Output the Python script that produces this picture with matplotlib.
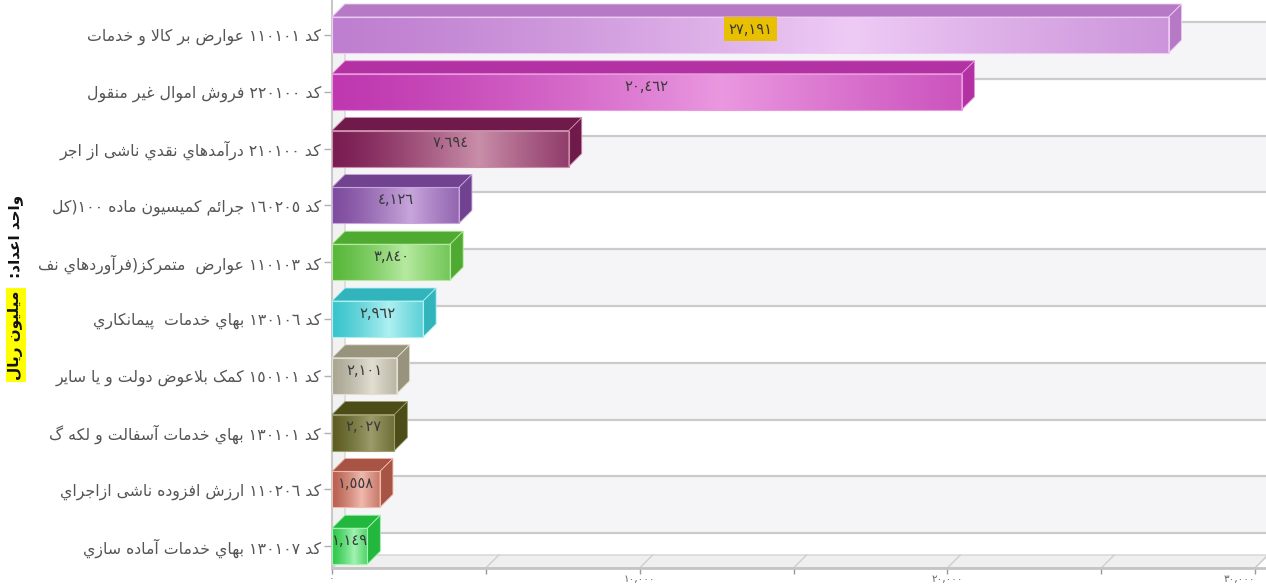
import matplotlib
matplotlib.use("Agg")
import matplotlib.pyplot as plt
import numpy as np
from matplotlib.patches import Polygon
from matplotlib.colors import to_rgb

# data
codes = ['110101', '220100', '210100', '160205', '110103',
         '130106', '150101', '130101', '110206', '130107']
names = ['عوارض بر کالا و خدمات',
         'فروش اموال غیر منقول',
         'درآمدهاي نقدي ناشی از اجر',
         'جرائم کمیسیون ماده 100(کل',
         'عوارض  متمرکز(فرآوردهاي نف',
         'بهاي خدمات  پیمانکاري',
         'کمک بلاعوض دولت و یا سایر',
         'بهاي خدمات آسفالت و لکه گ',
         'ارزش افزوده ناشی ازاجراي',
         'بهاي خدمات آماده سازي']
values = [27191, 20462, 7694, 4126, 3840, 2962, 2101, 2027, 1558, 1149]
xticks = [0, 5000, 10000, 15000, 20000, 25000, 30000]
xlabels = ['0', '', '10,000', '', '20,000', '', '30,000']
ytitle_a = 'واحد اعداد:'
ytitle_b = 'میلیون ریال'

# edge colour, highlight colour, top/side colour
edge_cols = ['#bf7fd0', '#bf38b0', '#7a1c52', '#7e4c9e', '#58b83a',
             '#3ac4cc', '#aaa693', '#5c5c22', '#b8604f', '#2ec84a']
light_cols = ['#eecbf5', '#ea98e0', '#c98ea9', '#c8a6dc', '#b6eaa0',
              '#aef0f2', '#e2dfd2', '#9c9c6c', '#f0baae', '#a2f2b2']
top_cols = ['#b679c6', '#b232a3', '#6f1a4b', '#704290', '#4eaa30',
            '#32b4bc', '#97937d', '#4c4c18', '#a85444', '#22b83e']

# --- minimal arabic shaping / visual ordering ---
F = {
    'ا': '\ufe8d\ufe8e', 'آ': '\ufe81\ufe82', 'د': '\ufea9\ufeaa',
    'ر': '\ufead\ufeae', 'ز': '\ufeaf\ufeb0', 'و': '\ufeed\ufeee',
    'ئ': '\ufe89\ufe8a\ufe8b\ufe8c', 'ب': '\ufe8f\ufe90\ufe91\ufe92',
    'ت': '\ufe95\ufe96\ufe97\ufe98', 'ج': '\ufe9d\ufe9e\ufe9f\ufea0',
    'ح': '\ufea1\ufea2\ufea3\ufea4', 'خ': '\ufea5\ufea6\ufea7\ufea8',
    'س': '\ufeb1\ufeb2\ufeb3\ufeb4', 'ش': '\ufeb5\ufeb6\ufeb7\ufeb8',
    'ض': '\ufebd\ufebe\ufebf\ufec0', 'ع': '\ufec9\ufeca\ufecb\ufecc',
    'غ': '\ufecd\ufece\ufecf\ufed0', 'ف': '\ufed1\ufed2\ufed3\ufed4',
    'ق': '\ufed5\ufed6\ufed7\ufed8', 'ل': '\ufedd\ufede\ufedf\ufee0',
    'م': '\ufee1\ufee2\ufee3\ufee4', 'ن': '\ufee5\ufee6\ufee7\ufee8',
    'ه': '\ufee9\ufeea\ufeeb\ufeec', 'ي': '\ufef1\ufef2\ufef3\ufef4',
    'پ': '\ufb56\ufb57\ufb58\ufb59', 'ک': '\ufb8e\ufb8f\ufb90\ufb91',
    'گ': '\ufb92\ufb93\ufb94\ufb95', 'ی': '\ufbfc\ufbfd\ufbfe\ufbff',
}
LA = {'ا': '\ufefb\ufefc', 'آ': '\ufef5\ufef6'}
DIGITS = str.maketrans('0123456789', '٠١٢٣٤٥٦٧٨٩')
MIRROR = {'(': ')', ')': '('}


def forms(u):
    if u is None:
        return None
    if isinstance(u, tuple):
        return LA[u[1]]
    return F.get(u)


def shape(s):
    units = []
    i = 0
    while i < len(s):
        if s[i] == 'ل' and i + 1 < len(s) and s[i + 1] in LA:
            units.append(('L', s[i + 1]))
            i += 2
        else:
            units.append(s[i])
            i += 1
    out = []
    for k, u in enumerate(units):
        f = forms(u)
        if f is None:
            out.append(u)
            continue
        pf = forms(units[k - 1]) if k > 0 else None
        nf = forms(units[k + 1]) if k + 1 < len(units) else None
        jp = pf is not None and len(pf) == 4
        jn = len(f) == 4 and nf is not None
        if jp and jn:
            out.append(f[3])
        elif jp:
            out.append(f[1])
        elif jn:
            out.append(f[2])
        else:
            out.append(f[0])
    return ''.join(out)


def fa(s):
    s = shape(s.translate(DIGITS))
    units, buf = [], ''
    for i, c in enumerate(s):
        if c in '٠١٢٣٤٥٦٧٨٩' or (c == ',' and buf and i + 1 < len(s)):
            buf += c
        else:
            if buf:
                units.append(buf)
                buf = ''
            units.append(MIRROR.get(c, c))
    if buf:
        units.append(buf)
    return ''.join(reversed(units))


W, H = 1266, 585
fig = plt.figure(figsize=(W / 100, H / 100), dpi=100)
fig.patch.set_facecolor('white')

# axes: x 0 at px 332, 30000 at px 1255; rows 56.8 px apart, first at 35 px
x0_px, x30_px, right_px = 332, 1255, 1266
row_px, row0_px, floor_px = 56.8, 35, 568
xmax = 30000 * (right_px - x0_px) / (x30_px - x0_px)
ax = fig.add_axes([x0_px / W, (H - floor_px) / H, (right_px - x0_px) / W, floor_px / H])
ytop = -row0_px / row_px
ybot = (floor_px - row0_px) / row_px

px_x = xmax / (right_px - x0_px)
DX = 13 * px_x
DY = 13 / row_px
HH = 18 / row_px
n = len(values)

# back wall bands and grid lines
for i in range(n):
    y1 = i - DY
    y2 = (i + 1 - DY) if i < n - 1 else ybot - DY
    if i % 2 == 0:
        ax.fill_between([DX, xmax + DX], y1, y2, color='#f5f5f8', lw=0, zorder=0)
    ax.plot([DX, xmax + DX], [y1, y1], color='#cbcbcb', lw=1.6, zorder=1,
            solid_capstyle='butt', clip_on=False)

# left wall
ax.add_patch(Polygon([(0, ybot), (DX, ybot - DY), (DX, ytop + 0.07), (0, ytop + 0.3)],
                     closed=True, fc='#f2f2f2', ec='#d6d6d6', lw=1, zorder=1, clip_on=False))

# floor
ax.add_patch(Polygon([(0, ybot), (30000, ybot), (30000 + DX, ybot - DY), (DX, ybot - DY)],
                     closed=True, fc='#efefef', ec='#d4d4d4', lw=1, zorder=1, clip_on=False))
for t in xticks:
    ax.plot([t, t + DX], [ybot, ybot - DY], color='#cfcfcf', lw=1, zorder=1, clip_on=False)

# bars
t = np.linspace(0, 1, 256)
w = np.clip(1 - np.abs(t - 0.62) / 0.62, 0, 1) ** 1.3
for i, v in enumerate(values):
    e = np.array(to_rgb(edge_cols[i]))
    l = np.array(to_rgb(light_cols[i]))
    grad = e[None, :] * (1 - w[:, None]) + l[None, :] * w[:, None]
    ax.imshow(grad[None, :, :], extent=[0, v, i + HH, i - HH], aspect='auto',
              zorder=3, interpolation='bilinear')
    ax.add_patch(Polygon([(0, i - HH), (v, i - HH), (v + DX, i - HH - DY), (DX, i - HH - DY)],
                         closed=True, fc=top_cols[i], ec=light_cols[i], lw=0.6, zorder=3))
    ax.add_patch(Polygon([(v, i - HH), (v + DX, i - HH - DY), (v + DX, i + HH - DY), (v, i + HH)],
                         closed=True, fc=top_cols[i], ec=light_cols[i], lw=0.6, zorder=3))
    ax.add_patch(Polygon([(0, i - HH), (v, i - HH), (v, i + HH), (0, i + HH)],
                         closed=True, fc='none', ec=light_cols[i], lw=0.8, zorder=4))
    lab = fa(f'{v:,}')
    kw = dict(ha='center', va='center', fontsize=10.5, color='#3a3a3a', zorder=5)
    if i == 0:
        kw['bbox'] = dict(boxstyle='square,pad=0.3', fc='#e8c000', ec='none')
    ax.text(v / 2, i - 0.1, lab, **kw)

ax.set_xlim(0, xmax)
ax.set_ylim(ybot, ytop)
ax.set_yticks(range(n))
ax.set_yticklabels([fa('کد ' + c + ' ' + nm) for c, nm in zip(codes, names)],
                   fontsize=11.3, color='#555555')
ax.set_xticks(xticks)
ax.set_xticklabels([fa(s) if s else '' for s in xlabels], fontsize=7.5, color='#666666')
ax.get_xticklabels()[-1].set_horizontalalignment('right')
ax.tick_params(axis='y', length=6, width=1, color='#b0b0b0', pad=2)
ax.tick_params(axis='x', length=4, width=1, color='#999999', pad=0)
for s in ['top', 'right']:
    ax.spines[s].set_visible(False)
ax.spines['left'].set_color('#c8c8c8')
ax.spines['left'].set_linewidth(1.5)
ax.spines['bottom'].set_color('#c4c4c4')
ax.spines['bottom'].set_linewidth(2)
ax.set_facecolor('none')

# vertical axis title
fig.text(16 / W, 1 - 236 / H, fa(ytitle_a), rotation=90, ha='center', va='center',
         fontsize=11, fontweight='bold', color='#111111')
fig.text(16 / W, 1 - 335 / H, fa(ytitle_b), rotation=90, ha='center', va='center',
         fontsize=11, fontweight='bold', color='#111111',
         bbox=dict(boxstyle='square,pad=0.15', fc='#ffff00', ec='none'))

fig.savefig('out.png', dpi=100)
